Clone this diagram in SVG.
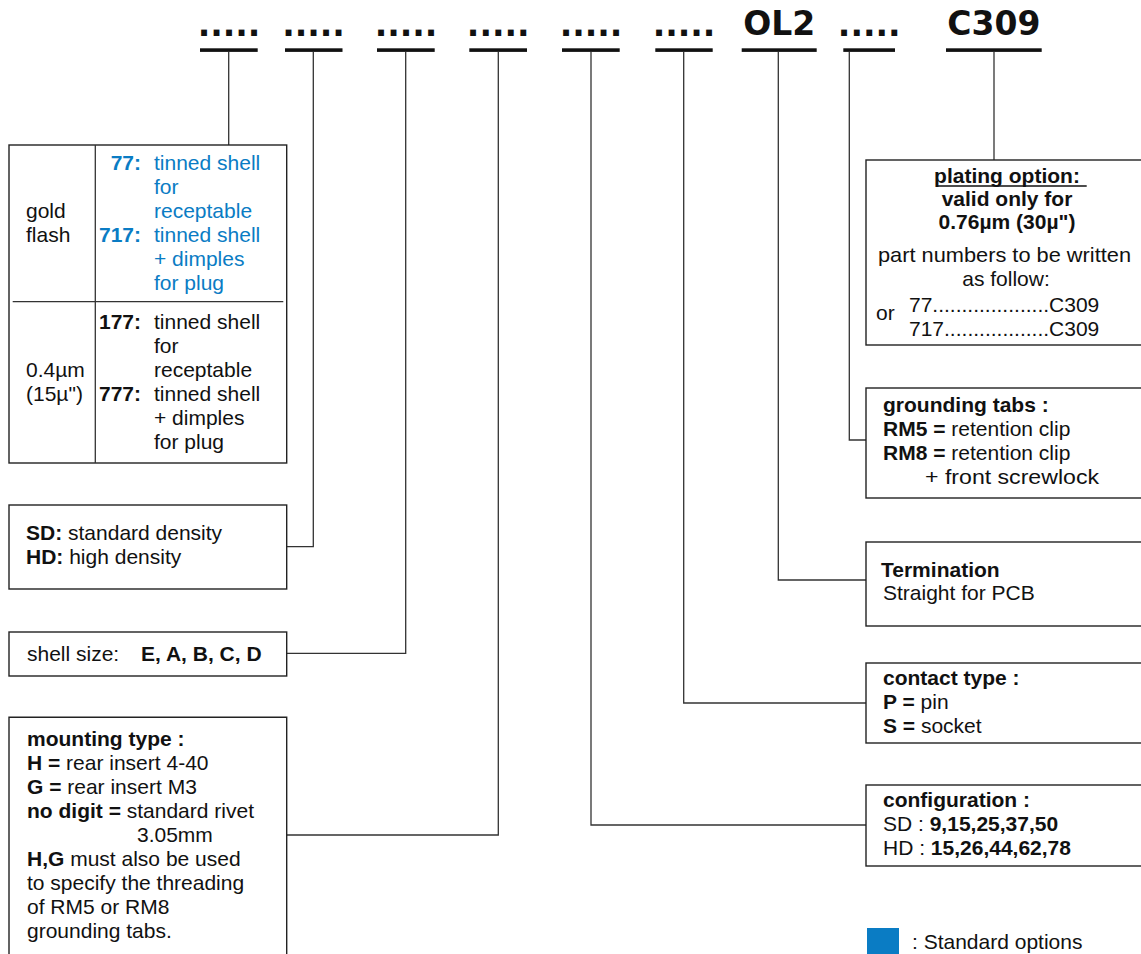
<svg xmlns="http://www.w3.org/2000/svg" width="1141" height="954" viewBox="0 0 1141 954">
<style>
.t{font-family:"Liberation Sans",Arial,sans-serif;font-size:21px;fill:#111}
.b{font-weight:bold}
.blue{fill:#0a7cc4}
.h{font-family:"DejaVu Sans",Verdana,sans-serif;font-weight:bold;font-size:33px;fill:#111;text-anchor:middle}
.box{fill:none;stroke:#222;stroke-width:1.4}
.ln{fill:none;stroke:#333;stroke-width:1.3}
.ul{fill:#111}
.c{text-anchor:middle}
.e{text-anchor:end}
</style>
<rect width="1141" height="954" fill="#fff"/>
<g id="header">
<text class="h" x="229" y="36">.....</text>
<rect class="ul" x="200" y="48.3" width="57.7" height="3.6"/>
<text class="h" x="313.5" y="36">.....</text>
<rect class="ul" x="285" y="48.3" width="57.5" height="3.6"/>
<text class="h" x="406" y="36">.....</text>
<rect class="ul" x="377" y="48.3" width="57.7" height="3.6"/>
<text class="h" x="498.2" y="36">.....</text>
<rect class="ul" x="469.3" y="48.3" width="57.7" height="3.6"/>
<text class="h" x="591" y="36">.....</text>
<rect class="ul" x="562" y="48.3" width="57.7" height="3.6"/>
<text class="h" x="684" y="36">.....</text>
<rect class="ul" x="655.3" y="48.3" width="57.4" height="3.6"/>
<text class="h" x="779.2" y="35">OL2</text>
<rect class="ul" x="741.7" y="48.3" width="75" height="3.6"/>
<text class="h" x="869.2" y="36">.....</text>
<rect class="ul" x="843.3" y="48.3" width="51.7" height="3.6"/>
<text class="h" x="993.9" y="35">C309</text>
<rect class="ul" x="946" y="48.3" width="95.7" height="3.6"/>
</g>
<g id="connectors">
<line class="ln" x1="228.7" y1="52" x2="228.7" y2="145"/>
<polyline class="ln" points="313.3,52 313.3,546.7 286.7,546.7"/>
<polyline class="ln" points="405.7,52 405.7,653.3 286.7,653.3"/>
<polyline class="ln" points="498.3,52 498.3,835 286.7,835"/>
<polyline class="ln" points="591,52 591,825 866,825"/>
<polyline class="ln" points="683.7,52 683.7,703 866,703"/>
<polyline class="ln" points="778.3,52 778.3,580 866,580"/>
<polyline class="ln" points="849.3,52 849.3,440 866,440"/>
<line class="ln" x1="994" y1="52" x2="994" y2="160"/>
</g>
<g id="plating-table">
<rect class="box" x="9" y="145" width="277.7" height="318"/>
<line class="ln" x1="95.3" y1="145" x2="95.3" y2="463"/>
<line class="ln" x1="12.7" y1="301.7" x2="283.3" y2="301.7"/>
<text class="t" x="26" y="218">gold</text>
<text class="t" x="26" y="242">flash</text>
<text class="t b blue e" x="141" y="170">77:</text>
<text class="t blue" x="154" y="170">tinned shell</text>
<text class="t blue" x="154" y="194">for</text>
<text class="t blue" x="154" y="218">receptable</text>
<text class="t b blue e" x="141" y="242">717:</text>
<text class="t blue" x="154" y="242">tinned shell</text>
<text class="t blue" x="154" y="266">+ dimples</text>
<text class="t blue" x="154" y="290">for plug</text>
<text class="t" x="26" y="377">0.4µm</text>
<text class="t" x="26" y="401">(15µ")</text>
<text class="t b e" x="141" y="329">177:</text>
<text class="t" x="154" y="329">tinned shell</text>
<text class="t" x="154" y="353">for</text>
<text class="t" x="154" y="377">receptable</text>
<text class="t b e" x="141" y="401">777:</text>
<text class="t" x="154" y="401">tinned shell</text>
<text class="t" x="154" y="425">+ dimples</text>
<text class="t" x="154" y="449">for plug</text>
</g>
<g id="density">
<rect class="box" x="9" y="505" width="277.7" height="84"/>
<text class="t" x="26" y="540"><tspan class="b">SD:</tspan> standard density</text>
<text class="t" x="26" y="564"><tspan class="b">HD:</tspan> high density</text>
</g>
<g id="shell-size">
<rect class="box" x="9" y="632" width="277.7" height="44"/>
<text class="t" x="27" y="661">shell size:</text>
<text class="t b" x="141" y="661">E, A, B, C, D</text>
</g>
<g id="mounting">
<path class="box" d="M9,960 V717.3 H286.7 V960"/>
<text class="t b" x="27" y="746">mounting type :</text>
<text class="t" x="27" y="770"><tspan class="b">H =</tspan> rear insert 4-40</text>
<text class="t" x="27" y="794"><tspan class="b">G =</tspan> rear insert M3</text>
<text class="t" x="27" y="818"><tspan class="b">no digit =</tspan> standard rivet</text>
<text class="t" x="137" y="842">3.05mm</text>
<text class="t" x="27" y="866"><tspan class="b">H,G</tspan> must also be used</text>
<text class="t" x="27" y="890">to specify the threading</text>
<text class="t" x="27" y="914">of RM5 or RM8</text>
<text class="t" x="27" y="938">grounding tabs.</text>
</g>
<g id="plating-option">
<rect class="box" x="866" y="160" width="280" height="185"/>
<text class="t b c" x="1007" y="183">plating option:</text>
<line x1="936.7" y1="186" x2="1086.7" y2="186" stroke="#111" stroke-width="1.4"/>
<text class="t b c" x="1007" y="206">valid only for</text>
<text class="t b c" x="1007" y="229">0.76µm (30µ")</text>
<text class="t" x="878" y="262" textLength="253" lengthAdjust="spacingAndGlyphs">part numbers to be written</text>
<text class="t c" x="1006" y="286">as follow:</text>
<text class="t" x="876" y="320">or</text>
<text class="t" x="909" y="312">77....................C309</text>
<text class="t" x="909" y="336">717..................C309</text>
</g>
<g id="grounding-tabs">
<rect class="box" x="866" y="388" width="280" height="110"/>
<text class="t b" x="883" y="412">grounding tabs :</text>
<text class="t" x="883" y="436"><tspan class="b">RM5 =</tspan> retention clip</text>
<text class="t" x="883" y="460"><tspan class="b">RM8 =</tspan> retention clip</text>
<text class="t" x="925" y="484" textLength="174" lengthAdjust="spacingAndGlyphs">+ front screwlock</text>
</g>
<g id="termination">
<rect class="box" x="866" y="542" width="280" height="84"/>
<text class="t b" x="881" y="577">Termination</text>
<text class="t" x="883" y="600">Straight for PCB</text>
</g>
<g id="contact-type">
<rect class="box" x="866" y="663" width="280" height="80"/>
<text class="t b" x="883" y="685">contact type :</text>
<text class="t" x="883" y="709"><tspan class="b">P =</tspan> pin</text>
<text class="t" x="883" y="733"><tspan class="b">S =</tspan> socket</text>
</g>
<g id="configuration">
<rect class="box" x="866" y="785" width="280" height="81"/>
<text class="t b" x="883" y="807">configuration :</text>
<text class="t" x="883" y="831">SD : <tspan class="b">9,15,25,37,50</tspan></text>
<text class="t" x="883" y="855">HD : <tspan class="b">15,26,44,62,78</tspan></text>
</g>
<g id="legend">
<rect x="867" y="928" width="32" height="26" fill="#0a7cc4"/>
<text class="t" x="912" y="949">: Standard options</text>
</g>
</svg>
